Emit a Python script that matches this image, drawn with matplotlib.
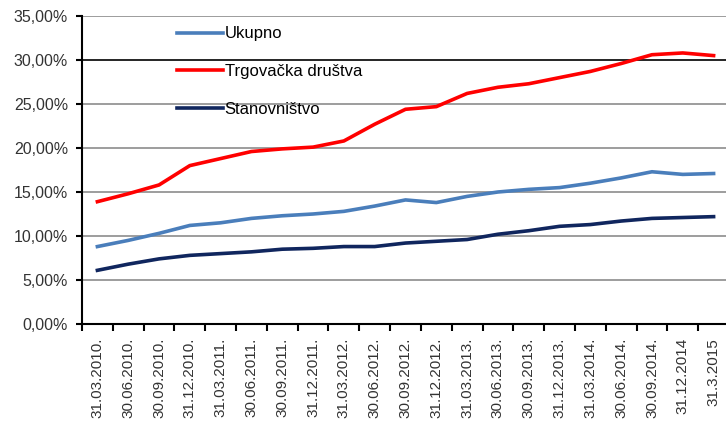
import numpy as np
import matplotlib.pyplot as plt
from matplotlib.ticker import FuncFormatter

plt.rcParams['font.family'] = ['Liberation Sans', 'DejaVu Sans']

# Quarter-end dates
dates = ['31.03.2010.', '30.06.2010.', '30.09.2010.', '31.12.2010.',
         '31.03.2011.', '30.06.2011.', '30.09.2011.', '31.12.2011.',
         '31.03.2012.', '30.06.2012.', '30.09.2012.', '31.12.2012.',
         '31.03.2013.', '30.06.2013.', '30.09.2013.', '31.12.2013.',
         '31.03.2014.', '30.06.2014.', '30.09.2014.', '31.12.2014',
         '31.3.2015']

# Shares in percent
ukupno = [8.8, 9.5, 10.3, 11.2, 11.5, 12.0, 12.3, 12.5, 12.8, 13.4, 14.1,
          13.8, 14.5, 15.0, 15.3, 15.5, 16.0, 16.6, 17.3, 17.0, 17.1]
trgovacka = [13.9, 14.8, 15.8, 18.0, 18.8, 19.6, 19.9, 20.1, 20.8, 22.7,
             24.4, 24.7, 26.2, 26.9, 27.3, 28.0, 28.7, 29.6, 30.6, 30.8, 30.5]
stanovnistvo = [6.1, 6.8, 7.4, 7.8, 8.0, 8.2, 8.5, 8.6, 8.8, 8.8, 9.2,
                9.4, 9.6, 10.2, 10.6, 11.1, 11.3, 11.7, 12.0, 12.1, 12.2]

x = np.arange(len(dates))

fig = plt.figure(figsize=(7.26, 4.26), dpi=100)
ax = fig.add_axes([82/726, 1 - 324/426, 647/726, 308/426])

# Gridlines (30% line is drawn darker in the original)
for v in range(5, 40, 5):
    ax.axhline(v, color='black' if v == 30 else '#8c8c8c', lw=1.2, zorder=1)

ax.plot(x, ukupno, color='#4a7ebb', lw=2.6, label='Ukupno', zorder=3)
ax.plot(x, trgovacka, color='#ff0000', lw=2.6, label='Trgovačka društva', zorder=3)
ax.plot(x, stanovnistvo, color='#10265e', lw=2.6, label='Stanovništvo', zorder=3)

ax.set_xlim(-0.5, len(dates) - 0.5)
ax.set_ylim(0, 35)
ax.set_yticks(np.arange(0, 36, 5))
ax.yaxis.set_major_formatter(FuncFormatter(lambda v, p: f'{v:.2f}%'.replace('.', ',')))

ax.set_xticks(x)
ax.set_xticklabels(dates, rotation=90, fontsize=11, color='#333333')
ax.set_xticks(np.arange(-0.5, len(dates), 1), minor=True)
ax.tick_params(axis='x', which='major', length=0, pad=10)
ax.tick_params(axis='x', which='minor', length=5, width=1.5, direction='out')
ax.tick_params(axis='y', length=4, width=1.5, pad=6, labelsize=11.5,
               labelcolor='#333333')

for s in ['top', 'right']:
    ax.spines[s].set_visible(False)
for s in ['left', 'bottom']:
    ax.spines[s].set_linewidth(1.5)

ax.legend(loc='upper left', bbox_to_anchor=(0.147, 0.966), frameon=False,
          fontsize=12, handlelength=2.75, handletextpad=0.1, labelspacing=1.36,
          borderpad=0, borderaxespad=0)

fig.savefig('out.png', dpi=100)
